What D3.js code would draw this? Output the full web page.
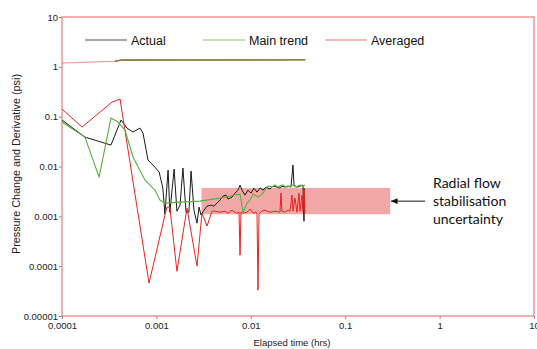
<!DOCTYPE html>
<html><head><meta charset="utf-8">
<script src="https://cdn.jsdelivr.net/npm/d3@7"></script>
<style>body{margin:0;background:#fff}svg{display:block}</style>
</head><body>
<script>
// ---- Data ----
const xTicks = [0.0001, 0.001, 0.01, 0.1, 1, 10];
const xTickLabels = ["0.0001", "0.001", "0.01", "0.1", "1", "10"];
const yTicks = [10, 1, 0.1, 0.01, 0.001, 0.0001, 0.00001];
const yTickLabels = ["10", "1", "0.1", "0.01", "0.001", "0.0001", "0.00001"];
const seriesNames = ["Actual", "Main trend", "Averaged"];

// Pressure change (upper curves)
const actualPressure = [[0.000364,1.30],[0.000432,1.37],[0.0375,1.38]];
const trendPressure = [[0.000364,1.30],[0.000432,1.37],[0.0375,1.38]];
const averagedPressure = [[0.0001,1.19],[0.000364,1.29],[0.000432,1.36],[0.0236,1.37],[0.0390,1.39]];

// Derivative curves
const actualDeriv = [
[0.0001,0.0855],[0.000175,0.0389],[0.00033,0.0269],[0.000422,0.0855],[0.000488,0.059],
[0.000565,0.0491],[0.00067,0.059],[0.000721,0.0469],[0.000815,0.0135],[0.00092,0.0107],
[0.00107,0.00773],[0.00117,0.00368],[0.00123,0.00111],[0.00133,0.00847],[0.00139,0.00121],
[0.00154,0.00887],[0.00165,0.00127],[0.00178,0.00168],[0.00191,0.0093],[0.00206,0.00121],
[0.00221,0.00121],[0.00233,0.00809],[0.0025,0.00133],[0.00269,0.00073],[0.00283,0.00153],
[0.00297,0.00106],[0.00319,0.00133],[0.00344,0.0016],[0.00379,0.00168],[0.00407,0.0016],
[0.00439,0.00184],[0.00472,0.00212],[0.00508,0.00255],[0.00546,0.00267],[0.00573,0.00222],
[0.00632,0.00243],[0.0068,0.00292],[0.00732,0.00336],[0.00769,0.00424],[0.00807,0.00336],
[0.00868,0.00267],[0.00934,0.00336],[0.01005,0.00292],[0.0108,0.00368],[0.01164,0.00306],
[0.01251,0.00368],[0.01347,0.00336],[0.01448,0.00386],[0.01596,0.00352],[0.01718,0.00404],
[0.01895,0.00386],[0.02037,0.00368],[0.02141,0.00404],[0.02302,0.00386],[0.02477,0.00404],
[0.02664,0.00386],[0.02798,0.0107],[0.0287,0.00424],[0.0308,0.00386],[0.0332,0.00404],
[0.0357,0.00424],[0.0366,0.0008],[0.0368,0.00368]
];
const trendDeriv = [
[0.0001,0.078],[0.000175,0.0389],[0.000247,0.00612],[0.00033,0.0937],[0.000392,0.078],
[0.000465,0.0538],[0.000565,0.0155],[0.000757,0.00533],[0.000966,0.00336],[0.00109,0.00212],
[0.00123,0.00184],[0.00178,0.00193],[0.0029,0.00202],[0.00472,0.00232],[0.0068,0.00267],
[0.00769,0.00279],[0.00827,0.00121],[0.00912,0.00184],[0.00981,0.00212],[0.01055,0.00279],
[0.01192,0.00243],[0.01314,0.00279],[0.01413,0.00336],[0.0152,0.00404],[0.01677,0.00386],
[0.01803,0.00424],[0.01941,0.00386],[0.02037,0.00404],[0.02193,0.00424],[0.0236,0.00386],
[0.026,0.00404],[0.02798,0.00424],[0.0301,0.00386],[0.0332,0.00424],[0.0357,0.00404],[0.0375,0.00424]
];
const averagedDeriv = [
[0.0001,0.142],[0.000163,0.0618],[0.000339,0.196],[0.000412,0.225],[0.000835,0.0000456],
[0.00129,0.00153],[0.00139,0.00153],[0.00165,0.000079],[0.00211,0.00146],[0.00269,0.0001],
[0.00304,0.00116],[0.00344,0.00064],[0.00388,0.00127],[0.00418,0.00127],[0.00472,0.00121],
[0.00533,0.00127],[0.00573,0.00116],[0.00632,0.00133],[0.00697,0.00116],[0.0075,0.00121],
[0.00769,0.000166],[0.00787,0.00121],[0.00827,0.00116],[0.00912,0.00121],[0.00981,0.0014],
[0.01055,0.00116],[0.01135,0.00121],[0.01164,0.00111],[0.01192,0.000033],[0.01222,0.00111],
[0.01314,0.00127],[0.01413,0.00133],[0.01596,0.00121],[0.01803,0.00127],[0.02037,0.00121],
[0.02088,0.00292],[0.02141,0.00127],[0.02302,0.00121],[0.02477,0.00133],[0.026,0.00127],
[0.0273,0.00267],[0.02798,0.00127],[0.0294,0.00232],[0.0308,0.00121],[0.0324,0.00292],
[0.0332,0.00127],[0.0349,0.00267],[0.0357,0.00127],[0.0366,0.00336],[0.0375,0.00116]
];
// Uncertainty band
const bandX = [0.003, 0.3];
const bandY = [0.0011, 0.0037];
const annotationLines = ["Radial flow", "stabilisation", "uncertainty"];

// ---- Drawing ----
const W = 537, H = 349;
const L = 62, R = 534, T = 17, B = 316;
const svg = d3.select("body").append("svg").attr("width", W).attr("height", H);

const x = d3.scaleLog().domain([0.0001, 10]).range([L, R]);
const y = d3.scaleLog().domain([0.00001, 10]).range([B, T]);

// band
svg.append("rect")
  .attr("x", x(bandX[0])).attr("y", y(bandY[1]))
  .attr("width", x(bandX[1]) - x(bandX[0]))
  .attr("height", y(bandY[0]) - y(bandY[1]))
  .attr("fill", "#f4a7a7");

// axes
const font = "'Liberation Sans', Arial, sans-serif";
const xAxis = d3.axisBottom(x).tickValues(xTicks).tickFormat((d, i) => xTickLabels[i]).tickSize(3).tickPadding(3);
const yAxis = d3.axisLeft(y).tickValues(yTicks).tickFormat((d, i) => yTickLabels[i]).tickSize(3).tickPadding(1);
const gx = svg.append("g").attr("transform", `translate(0,${B})`).call(xAxis);
const gy = svg.append("g").attr("transform", `translate(${L},0)`).call(yAxis);
[gx, gy].forEach(g => {
  g.select(".domain").remove();
  g.selectAll(".tick line").attr("stroke", "#888");
  g.selectAll(".tick text").attr("fill", "#222").style("font-family", font).style("font-size", "9.5px");
});

// frame
svg.append("rect").attr("x", L).attr("y", T).attr("width", R - L).attr("height", B - T)
  .attr("fill", "none").attr("stroke", "#f07a7a").attr("stroke-width", 1.2);

const line = d3.line().x(d => x(d[0])).y(d => y(d[1]));
const colBlack = "#1a1a1a", colGreen = "#55b03c", colRed = "#e8231f";
function draw(data, col, w, op) {
  svg.append("path").datum(data).attr("d", line).attr("fill", "none")
    .attr("stroke", col).attr("stroke-width", w).attr("stroke-linejoin", "round")
    .attr("stroke-opacity", op || 1);
}
draw(actualPressure, colBlack, 0.6);
draw(trendPressure, colGreen, 1.4);
draw(averagedPressure, colRed, 1.0, 0.5);
draw(actualDeriv, colBlack, 1.0);
draw(averagedDeriv, colRed, 1.0);
draw(trendDeriv, colGreen, 1.1);

// legend
const legCols = ["#8c8c8c", "#a8d898", "#f2a3a3"];
const legX = [85, 203, 325];
seriesNames.forEach((n, i) => {
  svg.append("line").attr("x1", legX[i]).attr("x2", legX[i] + 42).attr("y1", 40).attr("y2", 40)
    .attr("stroke", legCols[i]).attr("stroke-width", 1.5);
  svg.append("text").attr("x", legX[i] + 46).attr("y", 45).text(n)
    .style("font-family", font).style("font-size", "12.5px").attr("fill", "#111");
});

// annotation arrow and text
svg.append("defs").append("marker").attr("id", "ah").attr("viewBox", "0 0 10 10")
  .attr("refX", 9).attr("refY", 5).attr("markerWidth", 7).attr("markerHeight", 7).attr("orient", "auto")
  .append("path").attr("d", "M0,1 L10,5 L0,9 Z").attr("fill", "#111");
const ay = y(Math.sqrt(bandY[0] * bandY[1]));
svg.append("line").attr("x1", 425).attr("x2", x(bandX[1]) + 1).attr("y1", ay).attr("y2", ay)
  .attr("stroke", "#111").attr("stroke-width", 1).attr("marker-end", "url(#ah)");
annotationLines.forEach((t, i) => {
  svg.append("text").attr("x", 433).attr("y", 188 + i * 18).text(t)
    .style("font-family", "Lato, 'Open Sans', sans-serif").style("font-size", "14px").attr("fill", "#111");
});

// axis titles
svg.append("text").attr("x", (L + R) / 2 - 6).attr("y", 346).attr("text-anchor", "middle")
  .text("Elapsed time (hrs)").style("font-family", font).style("font-size", "9.5px").attr("fill", "#222");
svg.append("text").attr("transform", "translate(20,164) rotate(-90)").attr("text-anchor", "middle")
  .text("Pressure Change and Derivative (psi)").style("font-family", font).style("font-size", "10.8px").attr("fill", "#222");
</script>
</body></html>
